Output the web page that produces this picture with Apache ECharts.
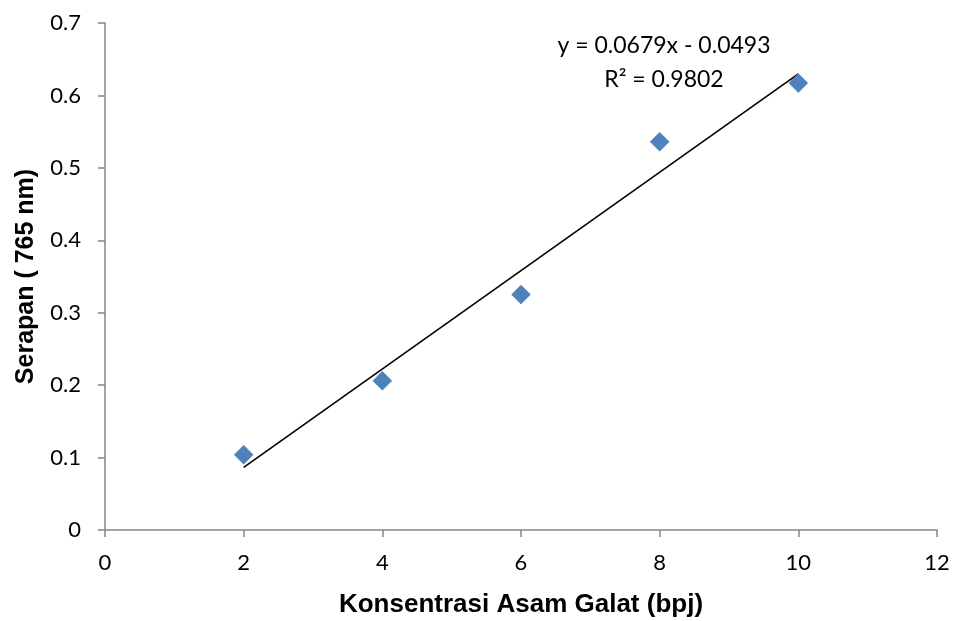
<!DOCTYPE html>
<html>
<head>
<meta charset="utf-8">
<script src="https://cdn.jsdelivr.net/npm/echarts@6/dist/echarts.min.js"></script>
<style>
  html, body { margin: 0; padding: 0; background: #fff; }
  #chart { width: 956px; height: 621px; }
</style>
</head>
<body>
<div id="chart"></div>
<script>
// Gallic acid standard curve: absorbance at 765 nm vs concentration
const concentrations = [2, 4, 6, 8, 10];
const absorbance = [0.104, 0.206, 0.325, 0.536, 0.617];

// Linear trendline parameters (as reported)
const slope = 0.0679;
const intercept = -0.0493;
const rSquared = 0.9802;
const trendRange = [2, 10];

const xTicks = { min: 0, max: 12, interval: 2 };
const yTicks = { min: 0, max: 0.7, interval: 0.1 };

const points = concentrations.map((x, i) => [x, absorbance[i]]);
const trend = trendRange.map(x => [x, slope * x + intercept]);

const chart = echarts.init(document.getElementById('chart'));
const axisGray = '#868686';
const tickFont = 'Lato, "Open Sans", sans-serif';
const titleFont = '"Liberation Sans", Arial, sans-serif';

chart.setOption({
  animation: false,
  backgroundColor: '#ffffff',
  grid: { left: 105, right: 19, top: 23, bottom: 91, containLabel: false, outerBoundsMode: 'none' },
  xAxis: {
    type: 'value',
    min: xTicks.min, max: xTicks.max, interval: xTicks.interval,
    name: 'Konsentrasi Asam Galat (bpj)',
    nameLocation: 'middle',
    nameGap: 62,
    nameTextStyle: { fontFamily: titleFont, fontWeight: 'bold', fontSize: 26, color: '#000' },
    axisLine: { show: true, lineStyle: { color: axisGray, width: 1.5 } },
    axisTick: { show: true, length: 7, lineStyle: { color: axisGray, width: 1.5 } },
    axisLabel: { fontFamily: tickFont, fontSize: 22, color: '#000', margin: 22 },
    splitLine: { show: false }
  },
  yAxis: {
    type: 'value',
    min: yTicks.min, max: yTicks.max, interval: yTicks.interval,
    name: 'Serapan ( 765 nm)',
    nameLocation: 'middle',
    nameGap: 66,
    nameRotate: 90,
    nameTextStyle: { fontFamily: titleFont, fontWeight: 'bold', fontSize: 25, color: '#000' },
    axisLine: { show: true, lineStyle: { color: axisGray, width: 1.5 } },
    axisTick: { show: true, length: 7, lineStyle: { color: axisGray, width: 1.5 } },
    axisLabel: { fontFamily: tickFont, fontSize: 22, color: '#000', margin: 24,
      formatter: v => (Math.round(v * 10) / 10).toString() },
    splitLine: { show: false }
  },
  series: [
    {
      type: 'line',
      data: trend,
      symbol: 'none',
      lineStyle: { color: '#000', width: 1.6 },
      z: 2
    },
    {
      type: 'scatter',
      data: points,
      symbol: 'diamond',
      symbolSize: [19, 19],
      itemStyle: { color: '#4F81BD', opacity: 1, borderColor: '#4A7EBB', borderWidth: 0.5 },
      z: 3
    }
  ],
  graphic: [
    {
      type: 'text',
      x: 664, y: 46,
      style: {
        text: 'y = ' + slope.toFixed(4) + 'x - ' + Math.abs(intercept).toFixed(4),
        fontFamily: tickFont, fontSize: 23, fill: '#000',
        align: 'center', verticalAlign: 'middle'
      }
    },
    {
      type: 'text',
      x: 664, y: 80,
      style: {
        text: 'R² = ' + rSquared.toFixed(4),
        fontFamily: tickFont, fontSize: 23, fill: '#000',
        align: 'center', verticalAlign: 'middle'
      }
    }
  ]
});
</script>
</body>
</html>
